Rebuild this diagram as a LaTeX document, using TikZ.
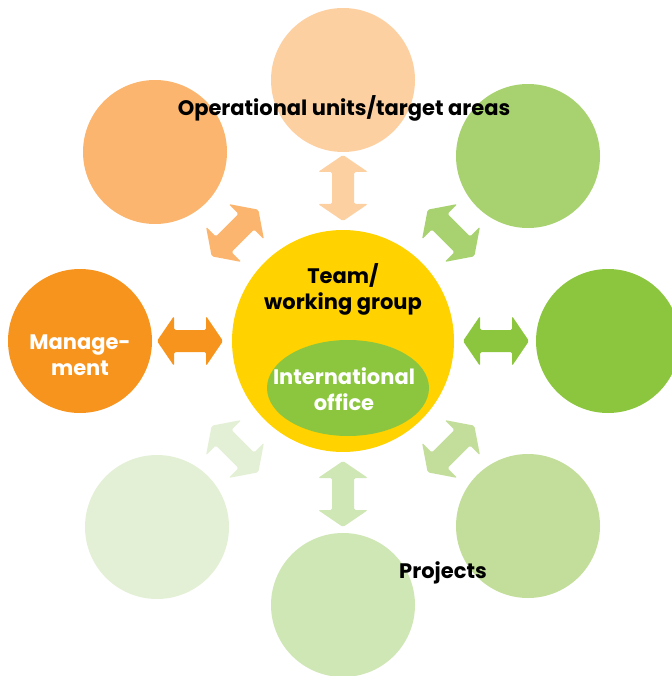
\documentclass[tikz,border=0pt]{standalone}
\usepackage{fontspec}
\setmainfont{Poppins}
\usetikzlibrary{calc,shapes.geometric}
\definecolor{cyellow}{HTML}{FFD200}
\definecolor{cgreen}{HTML}{8CC63F}
\definecolor{cpeach}{HTML}{FDD0A2}
\definecolor{clorange}{HTML}{FBB56E}
\definecolor{corange}{HTML}{F7941E}
\definecolor{clgreen}{HTML}{A8D270}
\definecolor{cbrgreen}{HTML}{C3DE9A}
\definecolor{cbgreen}{HTML}{CFE6B5}
\definecolor{cblgreen}{HTML}{E3F0D6}
\tikzset{
  outer/.style={circle, fill=#1, draw=none, minimum size=144pt, inner sep=0pt},
  lbl/.style={font=\bfseries\fontsize{21}{26}\selectfont, align=center, inner sep=0pt},
  dblarrow/.style={fill=#1, draw=none, rounded corners=1.5pt}
}
\newcommand{\blockarrow}[3]{% position, angle, colour
  \begin{scope}[shift={#1}, rotate=#2]
    \fill[dblarrow=#3] (-33,0) -- (-16,-25) -- (-16,-11) -- (16,-11) -- (16,-25) -- (33,0) -- (16,25) -- (16,11) -- (-16,11) -- (-16,25) -- cycle;
  \end{scope}}
\begin{document}
\begin{tikzpicture}[x=1pt,y=-1pt]
\useasboundingbox (0,0) rectangle (671,676);
\node[outer=cpeach]   (top) at (343,80) {};
\node[outer=clorange] (tl)  at (155,152) {};
\node[outer=clgreen]  (tr)  at (528,156) {};
\node[outer=corange]  (lf)  at (80,341) {};
\node[outer=cgreen]   (rt)  at (608,341) {};
\node[outer=cblgreen] (bl)  at (157,527) {};
\node[outer=cbrgreen] (br)  at (528,526) {};
\node[outer=cbgreen]  (bt)  at (343,605) {};
\node[circle, fill=cyellow, minimum size=222pt, inner sep=0pt] (c) at (343,341) {};
\node[ellipse, fill=cgreen, minimum width=162pt, minimum height=96pt, inner sep=0pt] (io) at (348,388) {};
\node[lbl, text=white] (iot) at (344,389) {International\\office};
\node[lbl] (team) at (343,289) {Team/\\working group};
\node[lbl, text=white] (mgt) at (80,355) {Manage-\\ment};
\node[lbl] (opl) at (344,108) {Operational units/target areas};
\node[lbl] (prj) at (443,573) {Projects};
\blockarrow{(343,188)}{90}{cpeach}
\blockarrow{(235,233)}{45}{clorange}
\blockarrow{(451,233)}{135}{clgreen}
\blockarrow{(190,341)}{0}{corange}
\blockarrow{(496,341)}{0}{cgreen}
\blockarrow{(235,449)}{135}{cblgreen}
\blockarrow{(451,449)}{45}{cbrgreen}
\blockarrow{(343,494)}{90}{cbgreen}
\end{tikzpicture}
\end{document}
